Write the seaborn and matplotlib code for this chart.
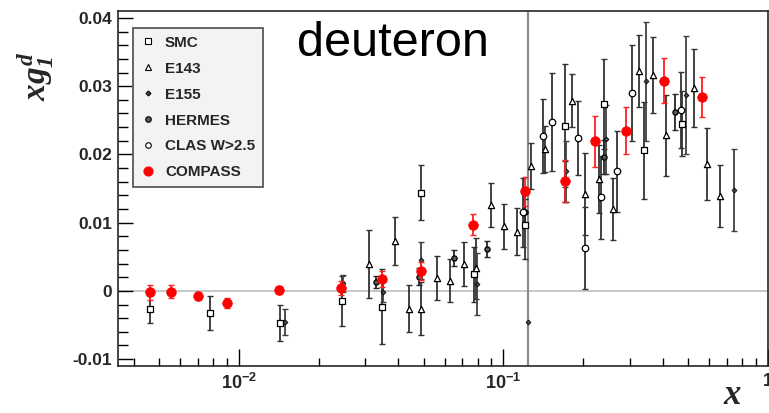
import numpy as np
import pandas as pd
import matplotlib
matplotlib.use("Agg")
import matplotlib.pyplot as plt
import seaborn as sns
from matplotlib.lines import Line2D
from matplotlib.ticker import FixedLocator, FixedFormatter, MultipleLocator, LogLocator, NullFormatter

# ---------------- data ----------------
smc_x = [0.0046, 0.0078, 0.0143, 0.0245, 0.0348, 0.0489, 0.0771, 0.121, 0.171, 0.239, 0.340, 0.475]
smc_y = [-0.0027, -0.0033, -0.0047, -0.0015, -0.0023, 0.0144, 0.0024, 0.0097, 0.0242, 0.0274, 0.0206, 0.0245]
smc_e = [0.0020, 0.0025, 0.0026, 0.0037, 0.0055, 0.0040, 0.0040, 0.0050, 0.0090, 0.0066, 0.0071, 0.0048]

e143_x = [0.0310, 0.0390, 0.0440, 0.0489, 0.0560, 0.0629, 0.0708, 0.0788, 0.0899, 0.1009, 0.1127,
          0.1272, 0.1437, 0.1815, 0.2039, 0.229, 0.2585, 0.326, 0.368, 0.413, 0.523, 0.590, 0.659]
e143_y = [0.0039, 0.0073, -0.0026, -0.0026, 0.0019, 0.0015, 0.0039, 0.0033, 0.0126, 0.0095, 0.0087,
          0.0183, 0.0208, 0.0279, 0.0142, 0.0164, 0.0120, 0.0322, 0.0316, 0.0228, 0.0297, 0.0186, 0.0139]
e143_e = [0.0050, 0.0035, 0.0034, 0.0039, 0.0032, 0.0032, 0.0032, 0.0045, 0.0032, 0.0033, 0.0034,
          0.0034, 0.0034, 0.0039, 0.0060, 0.0050, 0.0046, 0.0053, 0.0056, 0.0059, 0.0057, 0.0053, 0.0046]

e155_x = [0.0150, 0.0248, 0.0349, 0.0489, 0.0795, 0.1242, 0.172, 0.245, 0.345, 0.490, 0.746]
e155_y = [-0.0046, 0.0011, -0.0001, 0.0045, 0.0010, -0.0046, 0.0175, 0.0222, 0.0307, 0.0287, 0.0148]
e155_e = [0.0019, 0.0012, 0.0015, 0.0027, 0.0045, 0.0600, 0.0045, 0.0050, 0.0087, 0.0086, 0.0060]

hermes_x = [0.0329, 0.0480, 0.0649, 0.0868, 0.1208, 0.171, 0.239, 0.445]
hermes_y = [0.0013, 0.0021, 0.0048, 0.0061, 0.0116, 0.0160, 0.0196, 0.0262]
hermes_e = [0.0009, 0.0012, 0.0012, 0.0012, 0.0018, 0.0030, 0.0025, 0.0026]

clas_x = [0.1188, 0.1407, 0.1521, 0.1907, 0.2039, 0.234, 0.268, 0.306, 0.468]
clas_y = [0.0115, 0.0227, 0.0247, 0.0224, 0.0063, 0.0137, 0.0175, 0.0290, 0.0265]
clas_e = [0.0050, 0.0054, 0.0072, 0.0054, 0.0060, 0.0061, 0.0060, 0.0071, 0.0056]

compass_x = [0.00461, 0.00554, 0.0070, 0.0090, 0.01416, 0.0243, 0.0346, 0.0486, 0.0766,
             0.1208, 0.1714, 0.222, 0.290, 0.403, 0.562]
compass_y = [-0.0002, -0.0001, -0.0007, -0.0018, 0.0001, 0.0004, 0.0017, 0.0029, 0.0097,
             0.0146, 0.0161, 0.0219, 0.0235, 0.0308, 0.0284]
compass_e = [0.0011, 0.0010, 0.0006, 0.0007, 0.0006, 0.0010, 0.0012, 0.0013, 0.0015,
             0.0021, 0.0031, 0.0038, 0.0034, 0.0033, 0.0029]

labels = ["SMC", "E143", "E155", "HERMES", "CLAS W>2.5", "COMPASS"]
ytick_vals = [-0.01, 0.0, 0.01, 0.02, 0.03, 0.04]
ytick_labels = ["-0.01", "0", "0.01", "0.02", "0.03", "0.04"]
xtick_vals = [0.01, 0.1, 1.0]
xtick_labels = [r"$\mathbf{10^{-2}}$", r"$\mathbf{10^{-1}}$", r"$\mathbf{1}$"]

frames = []
for name, xs, ys, es in [("SMC", smc_x, smc_y, smc_e), ("E143", e143_x, e143_y, e143_e),
                         ("E155", e155_x, e155_y, e155_e), ("HERMES", hermes_x, hermes_y, hermes_e),
                         ("CLAS W>2.5", clas_x, clas_y, clas_e), ("COMPASS", compass_x, compass_y, compass_e)]:
    frames.append(pd.DataFrame({"x": xs, "y": ys, "err": es, "exp": name}))
df = pd.concat(frames, ignore_index=True)

# ---------------- style ----------------
sns.set_theme(style="ticks")
plt.rcParams["font.family"] = ["Liberation Sans", "DejaVu Sans"]
plt.rcParams["mathtext.fontset"] = "custom"
plt.rcParams["mathtext.it"] = "Liberation Serif:italic:bold"
plt.rcParams["mathtext.rm"] = "Liberation Serif:italic:bold"
plt.rcParams["mathtext.bf"] = "Liberation Sans:bold"

styles = {
    "SMC":        dict(marker="s", s=18, fc="white", ec="black", lw=0.9, ecol="0.2"),
    "E143":       dict(marker="^", s=20, fc="white", ec="black", lw=0.9, ecol="0.2"),
    "E155":       dict(marker="D", s=6,  fc="0.3",   ec="black", lw=0.6, ecol="0.25"),
    "HERMES":     dict(marker="o", s=14, fc="0.35",  ec="black", lw=0.9, ecol="0.15"),
    "CLAS W>2.5": dict(marker="o", s=22, fc="white", ec="black", lw=0.9, ecol="0.2"),
    "COMPASS":    dict(marker="o", s=48, fc="#ff0000", ec="#ff0000", lw=0.5, ecol="#ff2020"),
}

fig = plt.figure(figsize=(7.69, 4.13), dpi=100)
ax = fig.add_axes([0.1534, 0.114, 0.8453, 0.859])
ax.set_facecolor("white")

ax.axhline(0, color="0.78", lw=1.4, zorder=0)

for name in labels:
    sub = df[df["exp"] == name]
    st = styles[name]
    z = 2 if name != "COMPASS" else 4
    small = sub[sub["err"] < 0.02]
    big = sub[sub["err"] >= 0.02]
    ax.errorbar(small["x"], small["y"], yerr=small["err"], fmt="none", ecolor=st["ecol"],
                elinewidth=1.3, capsize=2.2, capthick=1.0, zorder=z)
    if len(big):
        ax.errorbar(big["x"], big["y"], yerr=big["err"], fmt="none", ecolor="0.55",
                    elinewidth=1.6, capsize=0, zorder=1)
    sns.scatterplot(data=sub, x="x", y="y", ax=ax, marker=st["marker"], s=st["s"],
                    color=st["fc"], edgecolor=st["ec"], linewidth=st["lw"],
                    zorder=z + 1, legend=False)

ax.set_xscale("log")
ax.set_xlim(0.00349, 1.0)
ax.set_ylim(-0.011, 0.041)

ax.xaxis.set_major_locator(FixedLocator(xtick_vals))
ax.xaxis.set_major_formatter(FixedFormatter(xtick_labels))
ax.xaxis.set_minor_locator(LogLocator(base=10, subs=np.arange(2, 10)))
ax.xaxis.set_minor_formatter(NullFormatter())
ax.yaxis.set_major_locator(FixedLocator(ytick_vals))
ax.yaxis.set_major_formatter(FixedFormatter(ytick_labels))
ax.yaxis.set_minor_locator(MultipleLocator(0.002))

ax.tick_params(axis="both", which="both", direction="in", top=False, right=False, color="black")
ax.tick_params(axis="y", which="major", length=11, width=1.0, pad=4, labelsize=12.5)
ax.tick_params(axis="y", which="minor", length=7, width=1.0)
ax.tick_params(axis="x", which="major", length=12, width=1.0, pad=5, labelsize=13)
ax.tick_params(axis="x", which="minor", length=6, width=1.0)
for lab in ax.get_yticklabels():
    lab.set_fontweight("bold")
ax.set_xlabel("")
ax.set_ylabel("")
for sp in ax.spines.values():
    sp.set_color("0.15")
    sp.set_linewidth(1.2)

# legend
handles = []
for name in labels:
    st = styles[name]
    ms = {"SMC": 4.0, "E143": 4.0, "E155": 2.5, "HERMES": 4.0, "CLAS W>2.5": 4.0, "COMPASS": 6.5}[name]
    handles.append(Line2D([], [], linestyle="none", marker=st["marker"], markersize=ms,
                          markerfacecolor=st["fc"], markeredgecolor=st["ec"], markeredgewidth=0.8))
leg = ax.legend(handles, labels, loc="upper left", bbox_to_anchor=(0.023, 0.952),
                borderaxespad=0, frameon=True, fancybox=False, framealpha=1,
                prop={"weight": "bold", "size": 11}, labelspacing=0.78, borderpad=0.5,
                handlelength=1.0, handletextpad=0.6)
leg.get_frame().set_facecolor("#f3f3f3")
leg.get_frame().set_edgecolor("0.35")
leg.get_frame().set_linewidth(1.3)

ax.text(0.276, 0.91, "deuteron", transform=ax.transAxes, fontsize=35, ha="left", va="center",
        color="black")

fig.text(0.047, 0.815, r"$xg_{1}^{d}$", rotation=90, fontsize=24, ha="center", va="center")
fig.text(0.952, 0.045, r"$x$", fontsize=25, ha="center", va="center")

fig.savefig("out.png", dpi=100)
